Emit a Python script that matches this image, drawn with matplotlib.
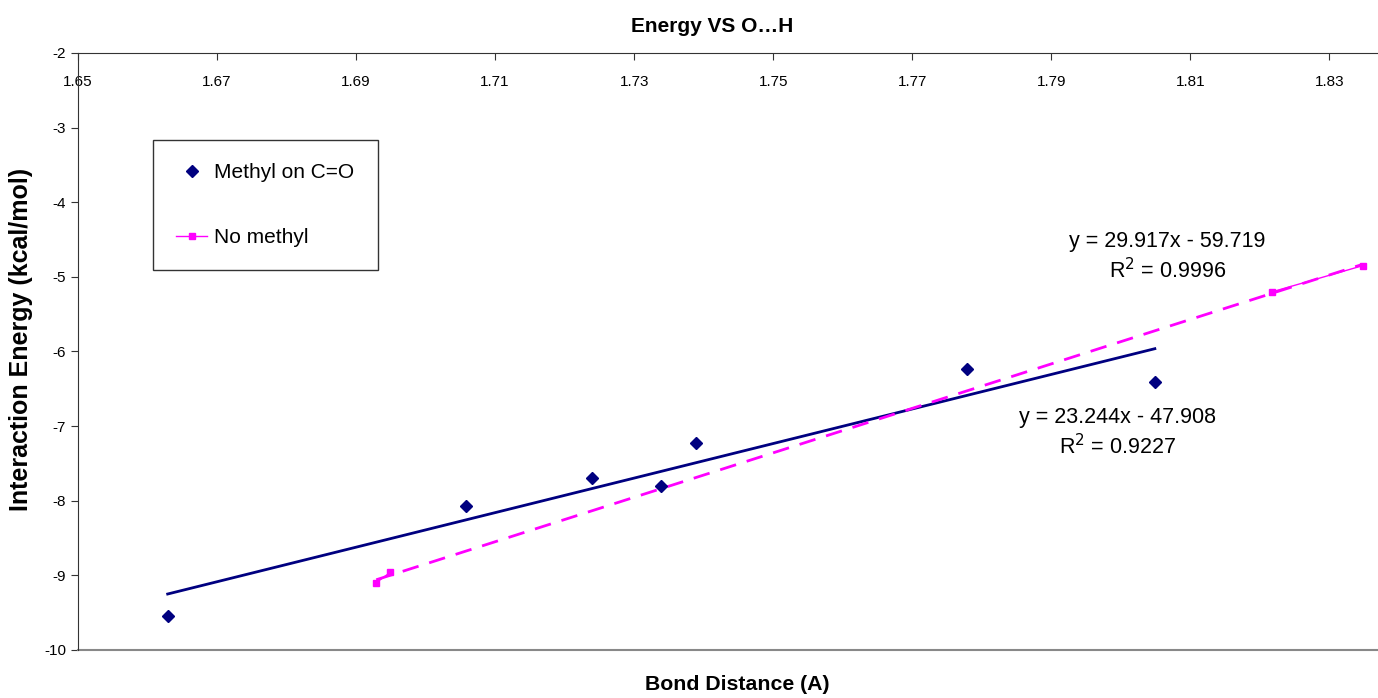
import numpy as np
import matplotlib.pyplot as plt

plt.rcParams['font.family'] = ['Liberation Sans', 'DejaVu Sans']
plt.rcParams['axes.unicode_minus'] = False

# data
methyl_x = [1.6629, 1.7058, 1.7240, 1.7339, 1.7389, 1.7779, 1.8049]
methyl_y = [-9.55, -8.07, -7.70, -7.80, -7.23, -6.23, -6.41]

# "No methyl" series has a gap in the middle
nomethyl_x = [1.6929, 1.6949, np.nan, 1.8218, 1.8348]
nomethyl_y = [-9.10, -8.96, np.nan, -5.20, -4.85]

x_ticks = [1.65, 1.67, 1.69, 1.71, 1.73, 1.75, 1.77, 1.79, 1.81, 1.83]
y_ticks = [-2, -3, -4, -5, -6, -7, -8, -9, -10]

navy = '#000080'
pink = '#FF00FF'

fig = plt.figure(figsize=(13.78, 6.98), dpi=100)
ax = fig.add_axes([0.0566, 0.0688, 0.9434, 0.8553])

ax.set_xlim(1.65, 1.837)
ax.set_ylim(-10, -2)

# trendlines
mx = np.array(methyl_x)
a, b = np.polyfit(mx, methyl_y, 1)
xs = np.array([mx.min(), mx.max()])
ax.plot(xs, a * xs + b, color=navy, lw=2)

nx = np.array(nomethyl_x)
ny = np.array(nomethyl_y)
ok = ~np.isnan(nx)
c, d = np.polyfit(nx[ok], ny[ok], 1)
xs2 = np.array([nx[ok].min(), nx[ok].max()])
ax.plot(xs2, c * xs2 + d, color=pink, lw=2, ls=(0, (6, 4)))

# series
ax.plot(methyl_x, methyl_y, 'D', color=navy, ms=6, ls='none', label='Methyl on C=O')
ax.plot(nomethyl_x, nomethyl_y, marker='s', color=pink, ms=4, lw=1, label='No methyl')

# equations
ax.text(1.8067, -4.74, 'y = 29.917x - 59.719\nR$^2$ = 0.9996', ha='center', va='center',
        fontsize=15.5, linespacing=1.3)
ax.text(1.7995, -7.09, 'y = 23.244x - 47.908\nR$^2$ = 0.9227', ha='center', va='center',
        fontsize=15.5, linespacing=1.3)

# axes: x axis line sits at y = -2
ax.spines['top'].set_visible(False)
ax.spines['right'].set_visible(False)
ax.spines['bottom'].set_position(('data', -2))
ax.spines['bottom'].set_color('#333333')
ax.spines['left'].set_color('#333333')
ax.axhline(-10, color='#888888', lw=1.5, clip_on=False)

ax.set_xticks(x_ticks)
ax.set_xticklabels(['%.2f' % v for v in x_ticks])
ax.set_yticks(y_ticks)
ax.tick_params(axis='x', direction='out', length=5, labelsize=11, pad=11, color='#333333')
ax.tick_params(axis='y', direction='out', length=5, labelsize=11, color='#333333')

ax.set_title('Energy VS O\u2026H', fontsize=15, fontweight='bold', pad=15, x=0.488)
ax.set_ylabel('Interaction Energy (kcal/mol)', fontsize=18, fontweight='bold')
ax.yaxis.set_label_coords(-0.0345, 0.52)
fig.text(0.535, 0.02, 'Bond Distance (A)', ha='center', va='center', fontsize=15.3,
         fontweight='bold')

leg = ax.legend(loc='upper left', bbox_to_anchor=(0.0577, 0.854), borderaxespad=0,
                fontsize=15, frameon=True, fancybox=False, edgecolor='black',
                labelspacing=2.2, borderpad=1.1, handlelength=1.5, handletextpad=0.35)
leg.get_frame().set_linewidth(1)

fig.savefig('out.png', dpi=100)
